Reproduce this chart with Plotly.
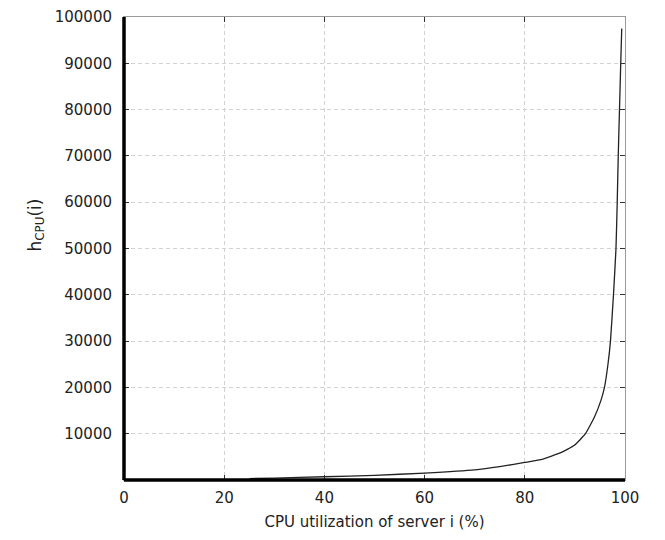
import plotly.graph_objects as go

# CPU utilization (%) and h_CPU(i) values
cpu_util = [25, 30, 40, 50, 60, 70, 75, 80, 83.2, 87.2, 89.9, 92.1, 93.9, 95.2,
            95.9, 96.6, 97.1, 97.7, 98.2, 98.45, 98.65, 98.9, 99.15, 99.35]
h_cpu = [300, 400, 700, 1000, 1500, 2200, 2900, 3800, 4400, 5900, 7500, 10000,
         13600, 17200, 20000, 25000, 30000, 40000, 50000, 60000, 70000, 80000,
         90000, 97500]

x_ticks = [0, 20, 40, 60, 80, 100]
y_ticks = [10000, 20000, 30000, 40000, 50000, 60000, 70000, 80000, 90000, 100000]
y_tick_labels = ["10000", "20000", "30000", "40000", "50000", "60000", "70000",
                 "80000", "90000", "100000"]

fig = go.Figure()
fig.add_trace(go.Scatter(
    x=cpu_util, y=h_cpu, mode="lines",
    line=dict(color="#222222", width=1.3, shape="spline", smoothing=0.4),
    showlegend=False,
))

grid = dict(showgrid=True, gridcolor="#d2d2d2", griddash="4px,3px", gridwidth=1,
            zeroline=False, showline=True, linecolor="#9a9a9a", linewidth=1,
            mirror="ticks", ticks="inside", ticklen=5, tickcolor="#333333",
            automargin=False, ticklabeloverflow="allow",
            tickfont=dict(family="DejaVu Sans", size=15, color="#222222"))

fig.update_xaxes(range=[0, 100], tickvals=x_ticks, **grid,
                 title=dict(text="CPU utilization of server i (%)",
                            font=dict(family="DejaVu Sans", size=15, color="#222222"),
                            standoff=10),
                 ticklabelstandoff=4)
fig.update_yaxes(range=[0, 100000], tickvals=y_ticks, ticktext=y_tick_labels, **grid,
                 ticklabelstandoff=8)

# thick left and bottom frame lines
fig.add_shape(type="line", xref="paper", yref="paper", x0=0, x1=0, y0=0, y1=1,
              line=dict(color="black", width=3.5))
fig.add_shape(type="line", xref="paper", yref="paper", x0=0, x1=1, y0=0, y1=0,
              line=dict(color="black", width=3.5))

fig.add_annotation(text="h<sub>CPU</sub>(i)", xref="paper", yref="paper",
                   x=(22 - 124) / 501, y=(480 - 225) / 463, textangle=-90,
                   showarrow=False, font=dict(family="DejaVu Sans", size=17, color="#222222"))

# page body adds an 8px offset, so the figure is sized to fit the window
fig.update_layout(width=657, height=532,
                  margin=dict(l=116, r=40, t=9, b=60),
                  plot_bgcolor="white", paper_bgcolor="white")

fig.write_html("out.html")
